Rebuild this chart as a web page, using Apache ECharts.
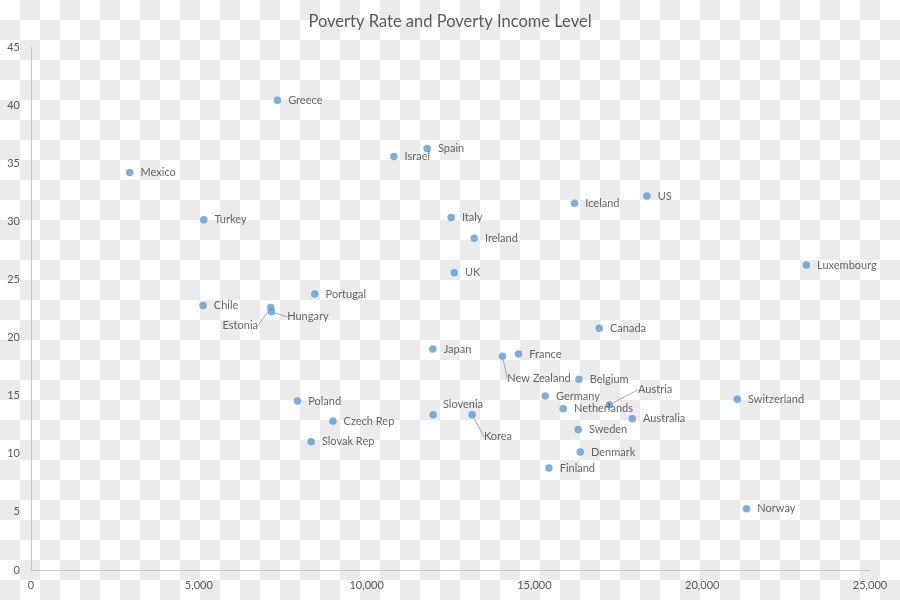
<!DOCTYPE html>
<html>
<head>
<meta charset="utf-8">
<script src="https://cdn.jsdelivr.net/npm/echarts@6/dist/echarts.min.js"></script>
<style>
  html, body { margin: 0; padding: 0; }
  body {
    width: 900px; height: 600px;
    background: repeating-conic-gradient(#ebebeb 0% 25%, #ffffff 0% 50%) 0 0 / 40px 40px;
  }
  #chart { width: 900px; height: 600px; }
</style>
</head>
<body>
<div id="chart"></div>
<script>
// ---- Data ----
const countries = ["Greece","Mexico","Turkey","Israel","Spain","Italy","Ireland","UK","Iceland","US",
  "Luxembourg","Portugal","Chile","Estonia","Hungary","Canada","Japan","France","New Zealand","Belgium",
  "Germany","Austria","Netherlands","Switzerland","Poland","Slovenia","Korea","Australia","Czech Rep","Sweden",
  "Slovak Rep","Denmark","Finland","Norway"];
const povertyIncome = [7342,2942,5148,10812,11805,12520,13206,12610,16196,18354,
  23103,8457,5127,7146,7163,16932,11975,14527,14050,16327,
  15322,17230,15859,21046,7939,11984,13146,17916,8994,16306,
  8347,16366,15433,21323];
const povertyRate = [40.46,34.24,30.16,35.61,36.30,30.36,28.58,25.59,31.59,32.20,
  26.26,23.76,22.79,22.61,22.24,20.83,19.03,18.60,18.40,16.42,
  14.98,14.23,13.89,14.70,14.55,13.37,13.37,13.03,12.83,12.11,
  11.05,10.16,8.78,5.28];
const xTicks = [0, 5000, 10000, 15000, 20000, 25000];
const yTicks = [0, 5, 10, 15, 20, 25, 30, 35, 40, 45];

// ---- Label adjustments (layout only) ----
const labelMoves = {
  "Estonia":     { dx: -59, dy: 18, line: true },
  "Hungary":     { dx: 5,   dy: 5,  line: true },
  "New Zealand": { dx: -6,  dy: 22, line: true },
  "Korea":       { dx: 1,   dy: 22, line: true },
  "Slovenia":    { dx: -1,  dy: -10, line: false },
  "Austria":     { dx: 18,  dy: -15, line: true }
};

const FONT = 'Lato, "Open Sans", sans-serif';
const data = countries.map((c, i) => {
  const item = { name: c, value: [povertyIncome[i], povertyRate[i]] };
  if (labelMoves[c] && labelMoves[c].line) item.labelLine = { show: true };
  return item;
});

const chart = echarts.init(document.getElementById('chart'), null, { renderer: 'canvas' });
chart.setOption({
  backgroundColor: 'transparent',
  animation: false,
  title: {
    text: 'Poverty Rate and Poverty Income Level',
    left: 'center',
    top: 8,
    textStyle: { fontFamily: FONT, fontSize: 16.5, fontWeight: 'normal', color: '#595959' }
  },
  grid: { left: 31, right: 30, top: 47.5, bottom: 30, containLabel: false },
  xAxis: {
    type: 'value',
    min: xTicks[0], max: xTicks[xTicks.length - 1], interval: xTicks[1] - xTicks[0],
    axisLine: { show: true, onZero: false, lineStyle: { color: '#c4c4c4', width: 1 } },
    axisTick: { show: false },
    splitLine: { show: false },
    axisLabel: {
      margin: 10, color: '#595959', fontFamily: FONT, fontSize: 11,
      formatter: v => v.toLocaleString('en-US')
    }
  },
  yAxis: {
    type: 'value',
    min: yTicks[0], max: yTicks[yTicks.length - 1], interval: yTicks[1] - yTicks[0],
    axisLine: { show: true, onZero: false, lineStyle: { color: '#c4c4c4', width: 1 } },
    axisTick: { show: false },
    splitLine: { show: false },
    axisLabel: { margin: 11, color: '#595959', fontFamily: FONT, fontSize: 11 }
  },
  series: [{
    type: 'scatter',
    symbol: 'circle',
    symbolSize: 7.5,
    itemStyle: { color: '#5B9BD5' },
    data: data,
    label: {
      show: true,
      position: 'right',
      distance: 7,
      formatter: p => p.name,
      color: '#404040',
      fontFamily: FONT,
      fontSize: 11
    },
    labelLine: { show: false, lineStyle: { color: '#a6a6a6', width: 1 } },
    labelLayout: function (params) {
      const m = labelMoves[countries[params.dataIndex]];
      if (m) return { dx: m.dx, dy: m.dy };
      return {};
    }
  }]
});
</script>
</body>
</html>
